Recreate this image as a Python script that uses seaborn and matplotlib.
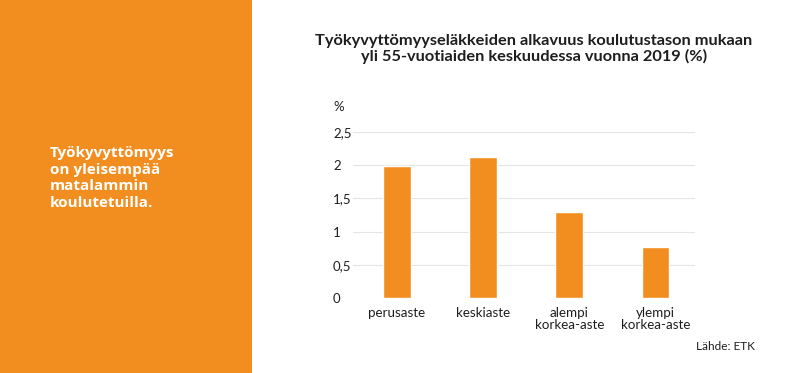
import matplotlib
matplotlib.use("Agg")
import matplotlib.pyplot as plt
import matplotlib.patches as mpatches
import seaborn as sns
import pandas as pd

categories = ["perusaste", "keskiaste", "alempi\nkorkea-aste", "ylempi\nkorkea-aste"]
values = [1.98, 2.12, 1.30, 0.77]
yticks = [0, 0.5, 1, 1.5, 2, 2.5]
ytick_labels = ["0", "0,5", "1", "1,5", "2", "2,5"]
title = "Työkyvyttömyyseläkkeiden alkavuus koulutustason mukaan\nyli 55-vuotiaiden keskuudessa vuonna 2019 (%)"
side_text = "Työkyvyttömyys\non yleisempää\nmatalammin\nkoulutetuilla."
source = "Lähde: ETK"

ORANGE = "#F28E1F"
TEXT = "#1e1e1e"

sns.set_theme(style="white")
plt.rcParams["font.family"] = ["Lato", "DejaVu Sans"]

W, H = 790, 373
fig = plt.figure(figsize=(W / 100, H / 100), dpi=100)
fig.patch.set_facecolor("white")

def fx(px):
    return px / W

def fy(py):
    return 1 - py / H

# left orange panel
fig.add_artist(mpatches.Rectangle((0, 0), fx(252), 1, transform=fig.transFigure,
                                  facecolor=ORANGE, edgecolor="none", zorder=0))
fig.text(fx(50), fy(146), side_text, color="white", fontsize=11, fontweight="bold",
         family=["Open Sans", "DejaVu Sans"], ha="left", va="top", linespacing=1.24)

# title
fig.text(fx(534), fy(33.5), title, color=TEXT, fontsize=11.8, fontweight="bold",
         ha="center", va="top", linespacing=1.12)

ax = fig.add_axes([fx(353), fy(298.3), fx(695) - fx(353), (298.3 - 131.7) / H])
df = pd.DataFrame({"cat": categories, "val": values})
sns.barplot(data=df, x="cat", y="val", color=ORANGE, saturation=1, width=0.32, ax=ax, zorder=3)
ax.set_xlim(-0.51, 3.46)
ax.set_ylim(0, 2.5)
ax.set_yticks(yticks)
ax.set_yticklabels(ytick_labels)
ax.set_xlabel("")
ax.set_ylabel("")
for s in ax.spines.values():
    s.set_visible(False)
ax.grid(axis="y", color="#e4e4e4", linewidth=0.8, zorder=0)
ax.set_axisbelow(True)
ax.tick_params(axis="y", length=0, pad=14.4, labelsize=9.5, labelcolor=TEXT)
for lab in ax.get_yticklabels():
    lab.set_horizontalalignment("left")
ax.tick_params(axis="x", length=0, pad=6, labelsize=9.6, labelcolor=TEXT)
for lab in ax.get_xticklabels():
    lab.set_linespacing(1.0)

fig.text(fx(333), fy(107), "%", color=TEXT, fontsize=9.5, ha="left", va="center")
fig.text(fx(755), fy(347), source, color=TEXT, fontsize=8.5, ha="right", va="center")

fig.savefig("out.png", dpi=100, facecolor="white")
